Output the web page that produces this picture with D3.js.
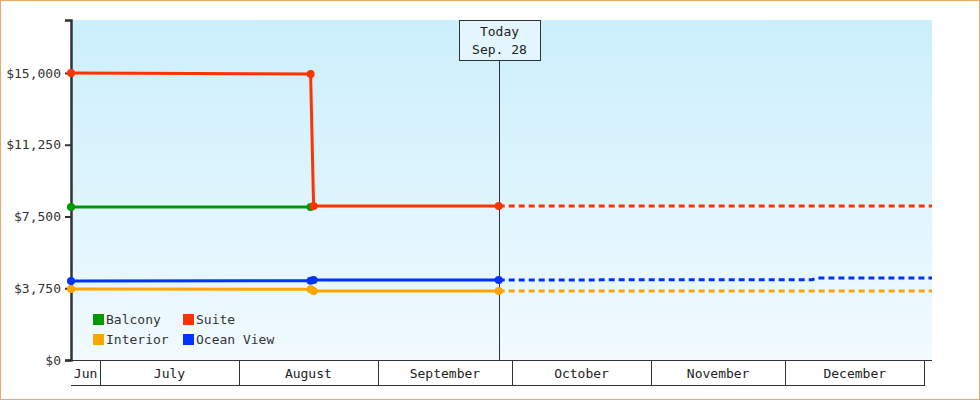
<!DOCTYPE html>
<html><head><meta charset="utf-8">
<script src="https://cdn.jsdelivr.net/npm/d3@7"></script>
<style>
body{margin:0;background:#fff}
svg{font-family:"DejaVu Sans Mono",monospace;font-size:13px}
</style></head><body><div id="chart"></div>
<script>
// prices per cabin type (solid = history, dotted = forecast)
const seriesNames = ["Balcony", "Suite", "Interior", "Ocean View"];
const seriesColors = ["#009900", "#ff3300", "#ffa500", "#0033ff"];
const balconyDates = ["2024-06-24T12:00", "2024-08-17T00:00"];
const balconyValues = [8000, 8000];
const suiteDates = ["2024-06-24T12:00", "2024-08-17T00:00", "2024-08-17T16:00", "2024-09-28T00:00"];
const suiteValues = [15000, 14950, 8050, 8050];
const suiteForecastDates = ["2024-09-28T00:00", "2025-01-02T18:00"];
const suiteForecastValues = [8050, 8050];
const interiorDates = ["2024-06-24T12:00", "2024-08-17T00:00", "2024-08-17T16:00", "2024-09-28T00:00"];
const interiorValues = [3710, 3700, 3610, 3610];
const interiorForecastDates = ["2024-09-28T00:00", "2025-01-02T18:00"];
const interiorForecastValues = [3610, 3610];
const oceanDates = ["2024-06-24T12:00", "2024-08-17T00:00", "2024-08-17T16:00", "2024-09-28T00:00"];
const oceanValues = [4130, 4140, 4180, 4180];
const oceanForecastDates = ["2024-09-28T00:00", "2024-10-20T00:00", "2024-10-21T00:00", "2024-12-07T00:00", "2024-12-08T00:00", "2025-01-02T18:00"];
const oceanForecastValues = [4180, 4180, 4200, 4200, 4280, 4280];
const yTicks = [0, 3750, 7500, 11250, 15000];
const monthLabels = ["Jun", "July", "August", "September", "October", "November", "December"];
const monthStarts = ["2024-06-24T12:00", "2024-07-01T00:00", "2024-08-01T00:00", "2024-09-01T00:00", "2024-10-01T00:00", "2024-11-01T00:00", "2024-12-01T00:00", "2025-01-01T00:00"];
const todayDate = "2024-09-28T00:00";
const todayLabel = ["Today", "Sep. 28"];

const W = 980, H = 400;
const margin = {top: 20, right: 48, bottom: 40, left: 71};
const w = W - margin.left - margin.right, h = H - margin.top - margin.bottom;
const parse = d3.timeParse("%Y-%m-%dT%H:%M");

const svg = d3.select("#chart").append("svg").attr("width", W).attr("height", H);
svg.append("rect").attr("x", 0.5).attr("y", 0.5).attr("width", W - 1).attr("height", H - 1)
  .attr("fill", "#fff").attr("stroke", "#e8aa66");

const defs = svg.append("defs");
const grad = defs.append("linearGradient").attr("id", "bg").attr("x1", 0).attr("y1", 0).attr("x2", 0).attr("y2", 1);
grad.append("stop").attr("offset", 0).attr("stop-color", "#cbeffc");
grad.append("stop").attr("offset", 1).attr("stop-color", "#f1faff");

const g = svg.append("g").attr("transform", `translate(${margin.left},${margin.top})`);
g.append("rect").attr("width", w).attr("height", h).attr("fill", "url(#bg)");

const x = d3.scaleTime().domain([parse("2024-06-24T12:00"), parse("2025-01-02T18:00")]).range([0, w]);
const y = d3.scaleLinear().domain([0, 17770]).range([h, 0]);

// y axis
const yAxis = g.append("g").call(d3.axisLeft(y).tickValues(yTicks).tickSize(6).tickFormat(d => "$" + d3.format(",")(d)));
yAxis.select(".domain").attr("stroke", "#333").attr("stroke-width", 2.5);
yAxis.selectAll(".tick line").attr("stroke", "#333").attr("stroke-width", 2);
yAxis.selectAll("text").attr("font-family", "DejaVu Sans Mono").attr("font-size", 13).attr("fill", "#333").attr("dx", -1);

// month band
const xb = g.append("g").attr("transform", `translate(0,${h})`);
const starts = monthStarts.map(parse);
xb.append("line").attr("x1", 0).attr("x2", x(starts[7]) + 1).attr("y1", 25.5).attr("y2", 25.5).attr("stroke", "#333");
xb.append("line").attr("x1", 0).attr("x2", w).attr("y1", 0.5).attr("y2", 0.5).attr("stroke", "#333");
starts.forEach((d, i) => {
  if (i === 0) return;
  xb.append("line").attr("x1", Math.round(x(d)) + 0.5).attr("x2", Math.round(x(d)) + 0.5)
    .attr("y1", 0).attr("y2", 25).attr("stroke", "#333");
});
monthLabels.forEach((m, i) => {
  xb.append("text").attr("x", (x(starts[i]) + x(starts[i + 1])) / 2).attr("y", 18)
    .attr("text-anchor", "middle").attr("fill", "#222").text(m);
});

// today line + label
const tx = Math.round(x(parse(todayDate))) + 0.5;
g.append("line").attr("x1", tx).attr("x2", tx).attr("y1", 0).attr("y2", h).attr("stroke", "#333");
g.append("rect").attr("x", tx - 40).attr("y", 0.5).attr("width", 81).attr("height", 40)
  .attr("fill", "#e4f6fd").attr("stroke", "#333");
todayLabel.forEach((t, i) => g.append("text").attr("x", tx).attr("y", 16 + i * 18)
  .attr("text-anchor", "middle").attr("fill", "#222").text(t));

const line = d3.line().x(d => x(d[0])).y(d => y(d[1]));
function draw(dates, vals, color, dashed, markers) {
  const pts = dates.map((d, i) => [parse(d), vals[i]]);
  g.append("path").datum(pts).attr("d", line).attr("fill", "none").attr("stroke", color)
    .attr("stroke-width", 3).attr("stroke-dasharray", dashed ? "6,4" : null);
  if (markers) g.selectAll(null).data(pts).enter().append("circle")
    .attr("cx", d => x(d[0])).attr("cy", d => y(d[1])).attr("r", 4).attr("fill", color);
}
draw(interiorForecastDates, interiorForecastValues, seriesColors[2], true, false);
draw(oceanForecastDates, oceanForecastValues, seriesColors[3], true, false);
draw(suiteForecastDates, suiteForecastValues, seriesColors[1], true, false);
draw(balconyDates, balconyValues, seriesColors[0], false, true);
draw(interiorDates, interiorValues, seriesColors[2], false, true);
draw(oceanDates, oceanValues, seriesColors[3], false, true);
draw(suiteDates, suiteValues, seriesColors[1], false, true);

// legend
const leg = g.append("g").attr("transform", "translate(22,294)");
seriesNames.forEach((n, i) => {
  const lg = leg.append("g").attr("transform", `translate(${(i % 2) * 90},${Math.floor(i / 2) * 20})`);
  lg.append("rect").attr("width", 11).attr("height", 11).attr("fill", seriesColors[i]);
  lg.append("text").attr("x", 13).attr("y", 10).attr("fill", "#333").text(n);
});
</script></body></html>
